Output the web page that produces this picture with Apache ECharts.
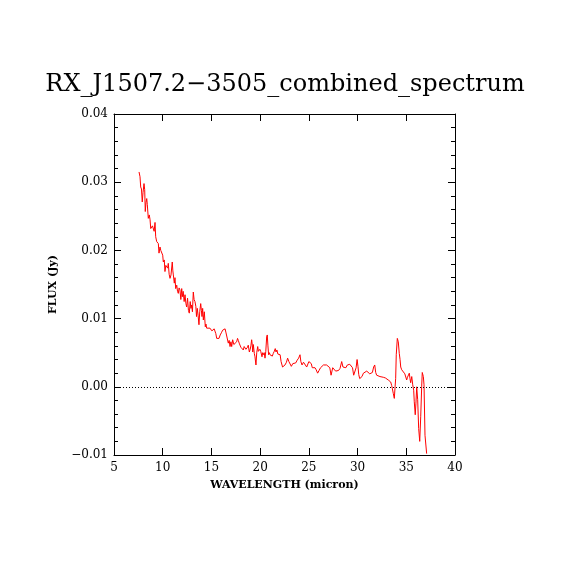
<!DOCTYPE html>
<html>
<head>
<meta charset="utf-8">
<script src="https://cdn.jsdelivr.net/npm/echarts@6/dist/echarts.min.js"></script>
<style>
html,body{margin:0;padding:0;background:#fff;}
#c{width:570px;height:570px;}
</style>
</head>
<body>
<div id="c"></div>
<script>
var titleText = "RX_J1507.2\u22123505_combined_spectrum";
var xLabel = "WAVELENGTH (micron)";
var yLabel = "FLUX (Jy)";
var xTicks = [5, 10, 15, 20, 25, 30, 35, 40];
var yTicks = [-0.01, 0.00, 0.01, 0.02, 0.03, 0.04];

var wavelength = [
7.57,7.67,7.74,7.82,7.90,7.98,8.08,8.15,8.21,8.28,8.36,8.42,8.52,8.62,8.70,8.77,8.87,8.95,9.03,9.12,
9.21,9.28,9.38,9.46,9.55,9.62,9.72,9.80,9.90,10.00,10.06,10.16,10.23,10.32,10.41,10.51,10.57,10.66,10.75,10.85,
10.98,11.04,11.09,11.19,11.26,11.33,11.44,11.52,11.60,11.68,11.77,11.86,11.95,12.01,12.10,12.20,12.29,12.38,12.46,12.55,
12.64,12.73,12.82,12.90,12.97,13.05,13.14,13.22,13.31,13.40,13.47,13.55,13.63,13.72,13.80,13.90,13.97,14.03,14.10,14.17,
14.27,14.37,14.44,14.51,14.60,14.70,14.85,14.95,15.05,15.19,15.28,15.37,15.45,15.54,15.65,15.78,15.90,16.05,16.15,16.29,
16.40,16.50,16.60,16.73,16.82,16.91,17.00,17.08,17.18,17.30,17.42,17.50,17.59,17.68,17.76,17.85,17.93,18.02,18.11,18.20,
18.27,18.36,18.45,18.54,18.62,18.70,18.78,18.89,18.98,19.05,19.13,19.20,19.24,19.30,19.40,19.47,19.57,19.65,19.75,19.82,
19.88,19.97,20.06,20.12,20.19,20.26,20.32,20.42,20.50,20.58,20.67,20.73,20.80,20.87,20.95,21.01,21.12,21.25,21.35,21.45,
21.55,21.63,21.72,21.82,21.90,22.05,22.15,22.30,22.45,22.55,22.70,22.82,22.95,23.06,23.20,23.35,23.50,23.65,23.80,23.95,
24.09,24.18,24.30,24.45,24.60,24.78,24.90,25.00,25.12,25.25,25.35,25.50,25.63,25.75,25.90,26.05,26.20,26.35,26.50,26.66,
26.82,27.00,27.15,27.28,27.34,27.45,27.60,27.75,27.90,28.05,28.20,28.37,28.50,28.65,28.80,28.95,29.05,29.20,29.35,29.48,
29.60,29.73,29.85,29.95,30.04,30.12,30.22,30.32,30.45,30.60,30.75,30.94,31.10,31.25,31.40,31.52,31.65,31.76,31.86,31.96,
32.10,32.30,32.45,32.64,32.85,32.99,33.15,33.30,33.40,33.50,33.56,33.67,33.77,33.85,33.91,33.97,34.08,34.18,34.28,34.36,
34.43,34.53,34.69,34.85,35.04,35.12,35.21,35.31,35.38,35.45,35.56,35.66,35.76,35.82,35.92,35.99,36.07,36.17,36.27,36.38,
36.48,36.58,36.64,36.75,36.82,36.92,37.02,37.09
];

var flux = [
0.0315,0.0308,0.0293,0.0290,0.0271,0.0285,0.0298,0.0289,0.0257,0.0270,0.0276,0.0267,0.0247,0.0252,0.0245,0.0232,0.0230,0.0236,0.0237,0.0228,
0.0241,0.0220,0.0213,0.0215,0.0210,0.0196,0.0205,0.0200,0.0198,0.0193,0.0183,0.0186,0.0169,0.0178,0.0176,0.0174,0.0181,0.0165,0.0159,0.0164,
0.0183,0.0170,0.0164,0.0152,0.0160,0.0144,0.0149,0.0140,0.0137,0.0145,0.0142,0.0128,0.0144,0.0132,0.0140,0.0125,0.0135,0.0122,0.0117,0.0130,
0.0112,0.0108,0.0125,0.0115,0.0120,0.0110,0.0139,0.0128,0.0125,0.0118,0.0103,0.0115,0.0105,0.0091,0.0110,0.0122,0.0112,0.0103,0.0115,0.0098,
0.0110,0.0088,0.0092,0.0086,0.0088,0.0085,0.0086,0.0088,0.0082,0.0080,0.0085,0.0083,0.0078,0.0071,0.0072,0.0071,0.0076,0.0080,0.0083,0.0082,
0.0085,0.0079,0.0080,0.0064,0.0068,0.0059,0.0066,0.0059,0.0069,0.0062,0.0064,0.0060,0.0066,0.0071,0.0068,0.0064,0.0062,0.0058,0.0056,0.0060,
0.0054,0.0059,0.0059,0.0055,0.0054,0.0058,0.0061,0.0051,0.0055,0.0060,0.0069,0.0060,0.0051,0.0062,0.0049,0.0044,0.0032,0.0050,0.0059,0.0052,
0.0051,0.0055,0.0052,0.0054,0.0044,0.0050,0.0047,0.0050,0.0042,0.0052,0.0073,0.0076,0.0060,0.0047,0.0050,0.0047,0.0049,0.0045,0.0049,0.0052,
0.0056,0.0051,0.0054,0.0048,0.0049,0.0047,0.0037,0.0029,0.0030,0.0032,0.0036,0.0042,0.0037,0.0036,0.0030,0.0034,0.0036,0.0035,0.0039,0.0042,
0.0047,0.0037,0.0032,0.0036,0.0034,0.0029,0.0031,0.0037,0.0035,0.0034,0.0028,0.0030,0.0028,0.0025,0.0020,0.0024,0.0028,0.0029,0.0032,0.0034,
0.0032,0.0034,0.0028,0.0017,0.0015,0.0028,0.0026,0.0023,0.0025,0.0024,0.0027,0.0037,0.0029,0.0027,0.0028,0.0032,0.0034,0.0033,0.0032,0.0028,
0.0017,0.0015,0.0028,0.0040,0.0030,0.0018,0.0012,0.0012,0.0015,0.0020,0.0022,0.0023,0.0021,0.0019,0.0017,0.0021,0.0029,0.0032,0.0021,0.0017,
0.0018,0.0015,0.0015,0.0014,0.0013,0.0013,0.0010,0.0008,0.0007,0.0002,-0.0002,-0.0010,-0.0017,0.0000,0.0012,0.0047,0.0071,0.0066,0.0049,0.0040,
0.0029,0.0025,0.0023,0.0019,0.0010,0.0014,0.0015,0.0020,0.0012,0.0006,0.0015,0.0003,-0.0005,-0.0022,-0.0041,-0.0024,0.0000,-0.0019,-0.0061,-0.0080,
-0.0044,0.0000,0.0021,0.0015,0.0003,-0.0071,-0.0073,-0.0098
];

var seriesData = wavelength.map(function(w, i){ return [w, flux[i]]; });

var serif = "DejaVu Serif";
var chart = echarts.init(document.getElementById('c'), null, {renderer:'canvas'});

function xAx(pos, showLabel, name){
  return {
    type:'value', position:pos, min:5, max:40, interval:5,
    name: name || '', nameLocation:'middle', nameGap:25,
    nameTextStyle:{fontFamily:serif, fontSize:11, fontWeight:'bold', color:'#000'},
    axisLine:{show:true, onZero:false, lineStyle:{color:'#000', width:1}},
    axisTick:{show:true, inside:true, length:7, lineStyle:{color:'#000'}},
    minorTick:{show:false},
    axisLabel:{show:showLabel, margin:7, fontFamily:serif, fontSize:12, color:'#000',
      formatter:function(v){ return xTicks.indexOf(v) >= 0 ? String(v) : ''; }},
    splitLine:{show:false}
  };
}
function yAx(pos, showLabel, name){
  return {
    type:'value', position:pos, min:-0.01, max:0.04, interval:0.01,
    name: name || '', nameLocation:'middle', nameGap:55, nameRotate:90,
    nameTextStyle:{fontFamily:serif, fontSize:11, fontWeight:'bold', color:'#000'},
    axisLine:{show:true, onZero:false, lineStyle:{color:'#000', width:1}},
    axisTick:{show:true, inside:true, length:7, lineStyle:{color:'#000'}},
    minorTick:{show:true, splitNumber:5, length:4, lineStyle:{color:'#000'}},
    axisLabel:{show:showLabel, margin:6, fontFamily:serif, fontSize:12, color:'#000',
      formatter:function(v){
        var r = Math.round(v*100)/100;
        var s = Math.abs(r).toFixed(2);
        return r < 0 ? '\u2212' + s : s;
      }},
    splitLine:{show:false}
  };
}

chart.setOption({
  backgroundColor:'#fff',
  animation:false,
  title:{text:titleText, left:'center', top:68,
    textStyle:{fontFamily:serif, fontSize:24, fontWeight:'normal', color:'#000'}},
  grid:{left:114, top:114, width:341, height:341},
  xAxis:[xAx('bottom', true, xLabel), xAx('top', false)],
  yAxis:[yAx('left', true, yLabel), yAx('right', false)],
  series:[{
    type:'line', data:seriesData, xAxisIndex:0, yAxisIndex:0,
    showSymbol:false, symbol:'none', smooth:false,
    lineStyle:{color:'#ff0000', width:1},
    markLine:{silent:true, symbol:'none', label:{show:false},
      lineStyle:{color:'#000', width:1, type:[1,2]},
      data:[{yAxis:0}]}
  }]
});
</script>
</body>
</html>
